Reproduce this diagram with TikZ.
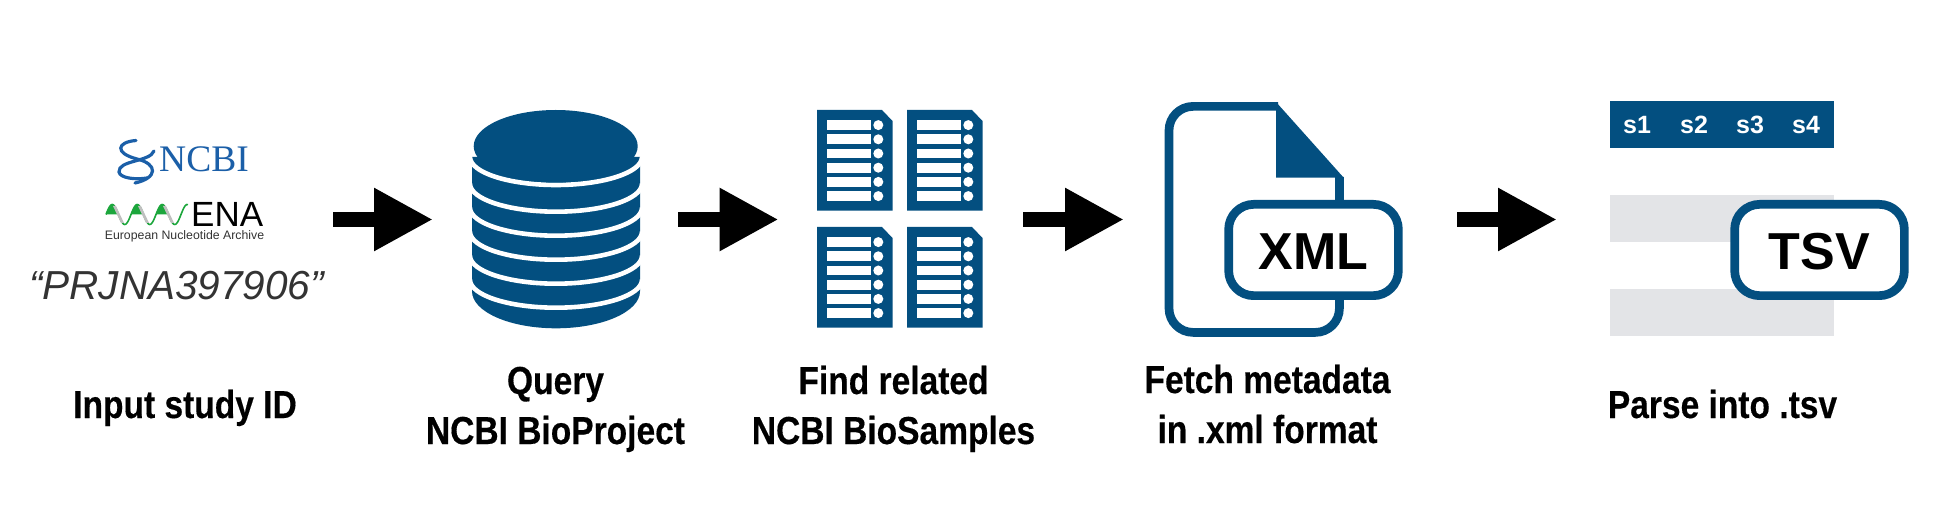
\documentclass[tikz,border=0pt]{standalone}
\usepackage{fontspec}
\setmainfont{Liberation Sans}
\newfontfamily\stepfont[FakeStretch=0.86,FakeBold=0.35]{Liberation Sans}
\newfontfamily\logofont{Liberation Serif}
\usetikzlibrary{arrows.meta}

\definecolor{dbblue}{HTML}{034F80}
\definecolor{rowgray}{HTML}{E3E4E7}
\definecolor{ncbiblue}{HTML}{1B5FA8}
\definecolor{enagreen}{HTML}{1CA63C}

\tikzset{
    iconbox/.style={inner sep=0pt, outer sep=0pt, minimum height=40pt},
    flowarrow/.style={line width=15pt, -{Triangle[length=59pt,width=59pt]}},
    steplabel/.style={font=\stepfont\bfseries\fontsize{39}{50}\selectfont, align=center, anchor=base, inner sep=0pt},
    badge/.style={draw=dbblue, fill=white, line width=8.7pt, rounded corners=25pt, minimum width=169.7pt, minimum height=91.3pt, text height=40pt, text depth=0pt, font=\bfseries\fontsize{52}{52}\selectfont},
    tablerow/.style={fill=rowgray, minimum width=224pt, minimum height=47pt, inner sep=0pt, outer sep=0pt},
    samplesheet/.pic={
        \fill[dbblue] (0,0) -- (65,0) -- (75.5,11) -- (75.5,100.7) -- (0,100.7) -- cycle;
        \foreach \row in {0,...,5} {
            \fill[white] (10,{10.2+14.2*\row}) rectangle +(44,9.8);
            \fill[white] (61.3,{15.1+14.2*\row}) circle[radius=5pt];
        }
    }
}

\begin{document}
\begin{tikzpicture}[x=1pt, y=-1pt]
    \useasboundingbox (0,0) rectangle (1958,510);

    % Invisible boxes the arrows run between
    \node[iconbox, minimum width=303pt] (ids) at (181.5,219.5) {};
    \node[iconbox, minimum width=245pt] (query) at (555.5,219.5) {};
    \node[iconbox, minimum width=244.4pt] (samples) at (900.8,219.5) {};
    \node[iconbox, minimum width=333pt] (xml) at (1290.5,219.5) {};
    \node[iconbox, minimum width=352pt] (tsv) at (1733,219.5) {};

    \foreach \from/\to in {ids/query, query/samples, samples/xml, xml/tsv} {
        \draw[flowarrow] (\from.east) -- (\to.west);
    }

    % NCBI logo
    \draw[ncbiblue, line width=3.2pt, line cap=round] (136,140.5) .. controls (117,142) and (114,153) .. (137,159) .. controls (158,164) and (158,178) .. (135,183);
    \draw[ncbiblue, line width=3.2pt, line cap=round] (154,151) .. controls (150,162) and (118,160) .. (119,172) .. controls (120,178) and (135,180) .. (147,178);
    \node[font=\logofont\fontsize{37.5}{37.5}\selectfont, text=ncbiblue, inner sep=0pt, anchor=base west] (ncbi) at (159,172) {NCBI};

    % ENA logo
    \draw[enagreen, line width=1.6pt, domain=106:188, samples=80, smooth] plot (\x,{214.5-10*sin(14.4*(\x-106))});
    \foreach \xa in {106,131,156} {
        \fill[enagreen, domain=\xa:\xa+12.5, samples=15, smooth] plot (\x,{214.5-10*sin(14.4*(\x-\xa))}) -- cycle;
        \fill[black!25] (\xa+7,206) -- (\xa+10,206) -- (\xa+18,223) -- (\xa+15,223) -- cycle;
    }
    \node[font=\fontsize{35}{35}\selectfont, text=black, inner sep=0pt, anchor=base west] (ena) at (191,227) {ENA};
    \node[font=\fontsize{12.3}{12.3}\selectfont, text=black!80, inner sep=0pt, anchor=base] (enaname) at (184.5,240) {European Nucleotide Archive};
    \node[font=\itshape\fontsize{40.5}{40.5}\selectfont, text=black!80, inner sep=0pt, anchor=base] (studyid) at (176.5,300) {“PRJNA397906”};

    % Database stack
    \fill[dbblue] (472,157) -- (472,291.3) arc[start angle=180, end angle=360, x radius=84pt, y radius=37pt] -- (640,157) -- cycle;
    \foreach \low in {185,211.7,235.7,259.7,283.7,307.7} {
        \draw[white, line width=4.6pt] (470,\low-28) arc[start angle=180, end angle=360, x radius=86pt, y radius=28pt];
    }
    \fill[dbblue] (555.7,146.2) circle[x radius=82pt, y radius=36.2pt];

    % Sample sheets
    \pic (sheetA) at (817,110) {samplesheet};
    \pic (sheetB) at (907,110) {samplesheet};
    \pic (sheetC) at (817,227) {samplesheet};
    \pic (sheetD) at (907,227) {samplesheet};

    % XML file
    \fill[dbblue] (1276,102) -- (1343.7,177.7) -- (1276,177.7) -- cycle;
    \draw[dbblue, line width=8.7pt, rounded corners=24pt] (1278,106.4) -- (1169,106.4) -- (1169,332.4) -- (1339.4,332.4) -- (1339.4,177);
    \node[badge] (xmlbadge) at (1313.5,250) {XML};

    % TSV table
    \node[tablerow, fill=dbblue] (header) at (1722,124.5) {};
    \node[tablerow] (rowA) at (1722,218.5) {};
    \node[tablerow] (rowB) at (1722,312.5) {};
    \foreach \x/\name in {1637/s1, 1694/s2, 1750/s3, 1806/s4} {
        \node[font=\bfseries\fontsize{25}{25}\selectfont, text=white, inner sep=0pt] (\name) at (\x,125) {\name};
    }
    \node[badge] (tsvbadge) at (1819.5,250) {TSV};

    % Step captions
    \node[steplabel] (inputlabel) at (185,418) {Input study ID};
    \node[steplabel] (querylabel) at (555.5,444) {Query\\NCBI BioProject};
    \node[steplabel] (sampleslabel) at (893.5,444) {Find related\\NCBI BioSamples};
    \node[steplabel] (xmllabel) at (1267.5,443) {Fetch metadata\\in .xml format};
    \node[steplabel] (tsvlabel) at (1722.5,418) {Parse into .tsv};
\end{tikzpicture}
\end{document}
